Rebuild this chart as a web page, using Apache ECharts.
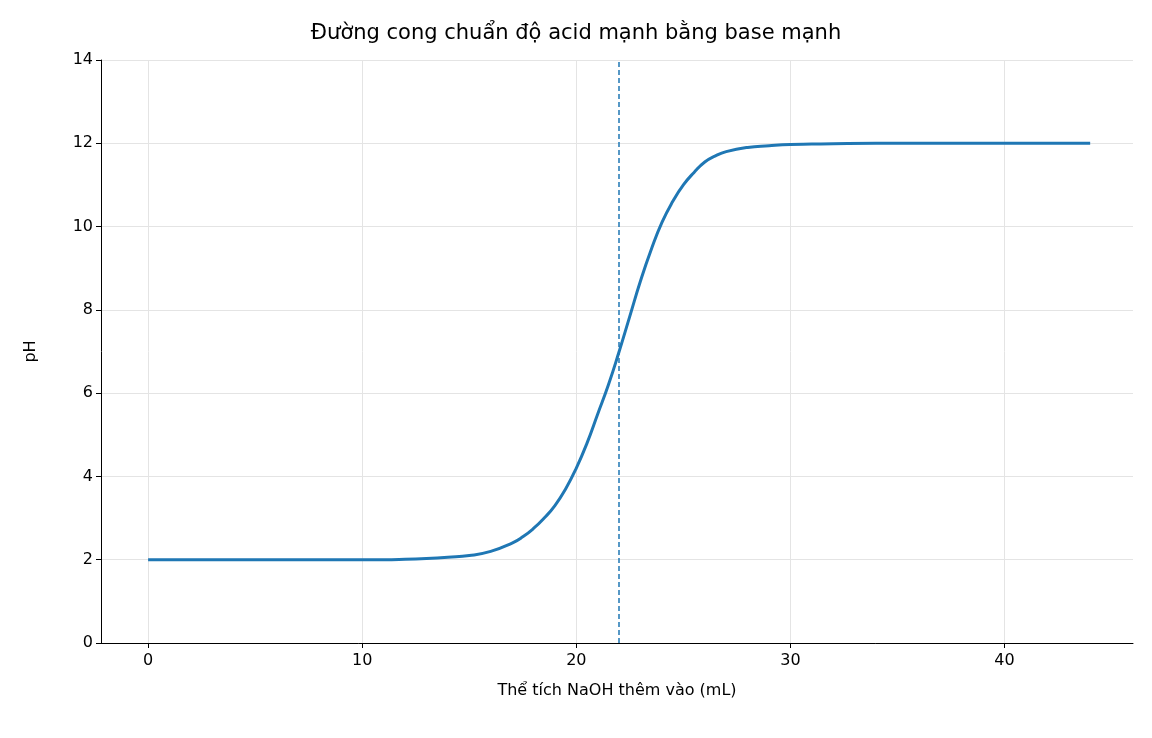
<!DOCTYPE html>
<html><head><meta charset="utf-8">
<script src="https://cdn.jsdelivr.net/npm/echarts@6/dist/echarts.min.js"></script>
<style>html,body{margin:0;padding:0;background:#fff}#c{width:1152px;height:738px}</style>
</head><body><div id="c"></div>
<script>
const volumes = [0,2,4,6,8,10,11,12,13,14,15,16,17,17.5,18,18.5,19,19.5,20,20.5,21,21.5,22,22.5,23,23.5,24,24.5,25,25.5,26,26.5,27,28,29,30,31,32,34,36,40,44];
const phValues = [2.0,2.0,2.0,2.0,2.0,2.0,2.0,2.01,2.03,2.06,2.1,2.2,2.4,2.55,2.75,3.0,3.3,3.7,4.2,4.8,5.5,6.2,7.0,7.85,8.7,9.45,10.1,10.6,11.0,11.3,11.55,11.7,11.8,11.9,11.94,11.97,11.98,11.99,12.0,12.0,12.0,12.0];
const equivalence = 22;
const xTicks = [0,10,20,30,40];
const chart = echarts.init(document.getElementById('c'));
const font = {fontFamily:'DejaVu Sans',fontSize:16,color:'#000'};
chart.setOption({
  animation:false,
  title:{text:'Đường cong chuẩn độ acid mạnh bằng base mạnh',left:'center',top:18,textStyle:{fontFamily:'DejaVu Sans',fontSize:21,fontWeight:'normal',color:'#000'}},
  grid:{left:101,right:19,top:60,bottom:95},
  xAxis:{type:'value',min:-2.2,max:46,name:'Thể tích NaOH thêm vào (mL)',nameLocation:'middle',nameGap:40,
    nameTextStyle:font,
    axisLine:{onZero:false,lineStyle:{color:'#000'}},
    axisTick:{show:true,customValues:xTicks,lineStyle:{color:'#000'}},
    axisLabel:Object.assign({customValues:xTicks,margin:10},font),
    splitLine:{show:true,lineStyle:{color:'#e4e4e4'}}},
  yAxis:{type:'value',min:0,max:14,interval:2,name:'pH',nameLocation:'middle',nameGap:62,
    nameTextStyle:font,
    axisLine:{show:true,onZero:false,lineStyle:{color:'#000'}},axisTick:{show:true,lineStyle:{color:'#000'}},
    axisLabel:font,
    splitLine:{show:true,lineStyle:{color:'#e4e4e4'}}},
  series:[{type:'line',data:volumes.map((v,i)=>[v,phValues[i]]),smooth:true,showSymbol:false,
    lineStyle:{color:'#1f77b4',width:3},
    markLine:{silent:true,symbol:'none',label:{show:false},lineStyle:{color:'#1f77b4',type:[5,3],width:1.5},data:[{xAxis:equivalence}]}}]
});
</script></body></html>
